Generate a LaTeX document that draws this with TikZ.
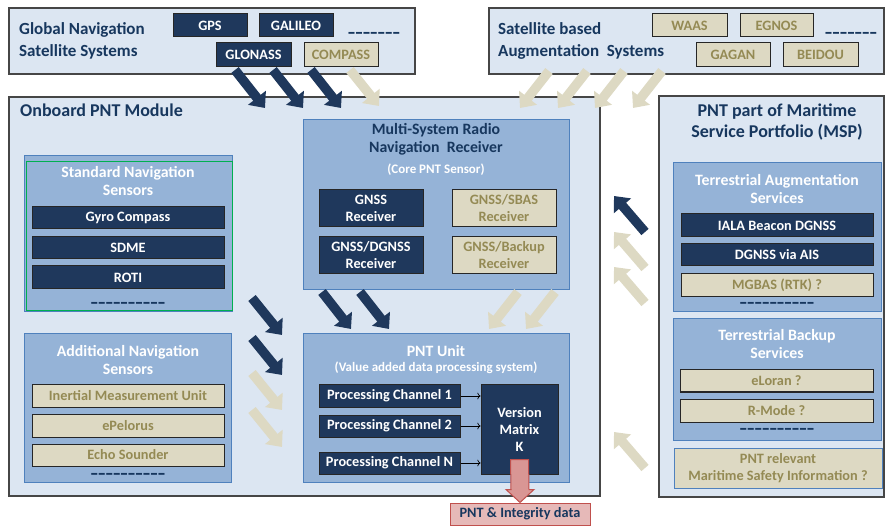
\documentclass[tikz,border=0pt]{standalone}
\usepackage{fontspec}
\setmainfont{Carlito}
\newfontfamily\dashfont[FakeStretch=1.36]{Carlito}
\usetikzlibrary{arrows.meta}

\definecolor{navy}{RGB}{31,56,92}
\definecolor{titleblue}{RGB}{23,55,94}
\definecolor{outerfill}{RGB}{220,230,242}
\definecolor{outerline}{RGB}{70,70,70}
\definecolor{groupfill}{RGB}{149,179,215}
\definecolor{groupline}{RGB}{79,129,189}
\definecolor{tanfill}{RGB}{221,217,195}
\definecolor{tantext}{RGB}{148,138,84}
\definecolor{sensorgreen}{RGB}{0,176,80}
\definecolor{resultfill}{RGB}{230,185,184}
\definecolor{arrowred}{RGB}{217,150,148}
\definecolor{redline}{RGB}{192,80,77}

\newcommand{\dashrow}[1]{\foreach \i in {1,...,#1}{-}}

\tikzset{
  wh/.style 2 args={minimum width=#1pt, minimum height=#2pt},
  outerbox/.style={rectangle, draw=outerline, fill=outerfill, line width=1.2pt, inner sep=0pt},
  groupbox/.style={rectangle, draw=groupline, fill=groupfill, line width=0.8pt, inner sep=0pt},
  darkbox/.style={rectangle, draw=black!85, fill=navy, text=white, line width=1pt, inner sep=0pt,
    align=center, font=\fontsize{14.3}{17}\selectfont\bfseries},
  tanbox/.style={darkbox, fill=tanfill, text=tantext},
  bigtitle/.style={text=titleblue, inner sep=0pt, font=\fontsize{17}{22}\selectfont\bfseries},
  grouptitle/.style={text=white, inner sep=0pt, align=center, font=\fontsize{15.8}{18}\selectfont\bfseries},
  note/.style={grouptitle, font=\fontsize{13}{15}\selectfont\bfseries},
  dashline/.style={text=titleblue, inner sep=0pt, anchor=base, font=\dashfont\fontsize{18}{18}\selectfont\bfseries},
  darkarrow/.style={line width=9.5pt, draw=navy, -{Triangle[width=22pt,length=13pt]}},
  tanarrow/.style={darkarrow, draw=tanfill},
  chanarrow/.style={->, black, line width=0.7pt},
  outarrow/.style={draw=redline, fill=arrowred, line width=1pt},
}

\begin{document}
\begin{tikzpicture}[x=1pt, y=-1pt]
  \useasboundingbox (0,0) rectangle (886,526);

  % satellite systems
  \node[outerbox, wh={406}{66}] (gnss) at (212,41) {};
  \node[bigtitle, anchor=west, align=left] (gnsstitle) at (19,41) {Global Navigation\\Satellite Systems};
  \node[darkbox, wh={74}{23}] (gps) at (210,25.5) {GPS};
  \node[darkbox, wh={74}{23}] (galileo) at (296,25.5) {GALILEO};
  \node[darkbox, wh={75}{24}] (glonass) at (253.5,55) {GLONASS};
  \node[tanbox, wh={74}{24}] (compass) at (341,55) {COMPASS};
  \node[dashline] (gnssdash) at (374,38.5) {\dashrow{7}};

  \node[outerbox, wh={395}{66}] (sbas) at (686.5,41) {};
  \node[bigtitle, anchor=west, align=left] (sbastitle) at (498,41) {Satellite based\\Augmentation~ Systems};
  \node[tanbox, wh={75}{23}] (waas) at (689.5,25.5) {WAAS};
  \node[tanbox, wh={73}{23}] (egnos) at (776.5,25.5) {EGNOS};
  \node[tanbox, wh={74}{24}] (gagan) at (733,55) {GAGAN};
  \node[tanbox, wh={75}{24}] (beidou) at (820.5,55) {BEIDOU};
  \node[dashline] (sbasdash) at (851,38.5) {\dashrow{7}};

  % onboard module
  \node[outerbox, wh={591}{399}] (onboard) at (304.5,296.5) {};
  \node[bigtitle, anchor=west, font=\fontsize{18}{22}\selectfont\bfseries] (onboardtitle) at (20,110) {Onboard PNT Module};

  \node[groupbox, wh={208}{156}] (std) at (128,233) {};
  \node[rectangle, draw=sensorgreen, line width=1pt, wh={206}{149}] (stdframe) at (129,236.5) {};
  \node[grouptitle] (stdtitle) at (128,181) {Standard Navigation\\Sensors};
  \node[darkbox, wh={192}{22}] (gyro) at (128,218) {Gyro Compass};
  \node[darkbox, wh={192}{22}] (sdme) at (128,248) {SDME};
  \node[darkbox, wh={192}{23}] (roti) at (128,277.5) {ROTI};
  \node[dashline] (stddash) at (128,308.5) {\dashrow{10}};

  \node[groupbox, wh={207}{149}] (add) at (127.5,407.5) {};
  \node[grouptitle] (addtitle) at (128,360) {Additional Navigation\\Sensors};
  \node[tanbox, wh={192}{22}] (imu) at (128,396) {Inertial Measurement Unit};
  \node[tanbox, wh={192}{23}] (pelorus) at (128,425.5) {ePelorus};
  \node[tanbox, wh={192}{22}] (echo) at (128,455) {Echo Sounder};
  \node[dashline] (adddash) at (128,479) {\dashrow{10}};

  \node[groupbox, wh={266}{170}] (msr) at (436,204) {};
  \node[grouptitle, text=titleblue] (msrtitle) at (436,139.5) {Multi-System Radio\\Navigation~ Receiver};
  \node[note] (msrnote) at (436,170) {(Core PNT Sensor)};
  \node[darkbox, wh={104}{37}] (rxgnss) at (371,208.5) {GNSS\\Receiver};
  \node[tanbox, wh={104}{37}] (rxsbas) at (504,208.5) {GNSS/SBAS\\Receiver};
  \node[darkbox, wh={104}{37}] (rxdgnss) at (371,255.5) {GNSS/DGNSS\\Receiver};
  \node[tanbox, wh={104}{37}] (rxbackup) at (504,255.5) {GNSS/Backup\\Receiver};

  \node[groupbox, wh={266}{149}] (unit) at (436,407.5) {};
  \node[grouptitle] (unittitle) at (436,351) {PNT Unit};
  \node[note] (unitnote) at (436,368) {(Value added data processing system)};
  \node[darkbox, wh={141}{22}] (pc1) at (389.5,396) {Processing Channel 1};
  \node[darkbox, wh={141}{22}] (pc2) at (389.5,426) {Processing Channel 2};
  \node[darkbox, wh={141}{22}] (pcn) at (389.5,463) {Processing Channel N};
  \node[darkbox, wh={77}{89}] (vm) at (519.5,429.5) {Version\\Matrix\\K};
  \foreach \c in {pc1,pc2,pcn}
    \draw[chanarrow] (\c.east) -- (\c.east -| vm.west);

  % maritime service portfolio
  \node[outerbox, wh={225}{401}] (msp) at (771.5,296.5) {};
  \node[bigtitle, align=center, font=\fontsize{18}{21}\selectfont\bfseries] (msptitle) at (777,122) {PNT part of Maritime\\Service Portfolio (MSP)};

  \node[groupbox, wh={208}{149}] (tas) at (777,236.5) {};
  \node[grouptitle] (tastitle) at (777,189) {Terrestrial Augmentation\\Services};
  \node[darkbox, wh={192}{23}] (iala) at (777,225.5) {IALA Beacon DGNSS};
  \node[darkbox, wh={192}{22}] (ais) at (777,255) {DGNSS via AIS};
  \node[tanbox, wh={192}{23}] (mgbas) at (777,285.5) {MGBAS (RTK) ?};
  \node[dashline] (tasdash) at (777,308.5) {\dashrow{10}};

  \node[groupbox, wh={208}{122}] (tbs) at (777,379) {};
  \node[grouptitle] (tbstitle) at (777,344) {Terrestrial Backup\\Services};
  \node[tanbox, wh={193}{22}] (eloran) at (776.5,381) {eLoran ?};
  \node[tanbox, wh={193}{23}] (rmode) at (776.5,410.5) {R-Mode ?};
  \node[dashline] (tbsdash) at (777,434) {\dashrow{10}};

  \node[tanbox, draw=groupline, wh={208}{40}] (msi) at (778,468) {PNT relevant\\Maritime Safety Information ?};

  % block arrows
  \foreach \x in {235,273,311}
    \draw[darkarrow] (\x,70) -- ++(30,38);
  \draw[tanarrow] (350,70) -- ++(29,36);
  \foreach \x in {549,587,624,662}
    \draw[tanarrow] (\x,71) -- ++(-29,37);
  \foreach \x in {322,360}
    \draw[darkarrow] (\x,292) -- ++(29,37);
  \foreach \x in {518,555}
    \draw[tanarrow] (\x,292) -- ++(-29,37);
  \foreach \y in {298,338}
    \draw[darkarrow] (252,\y) -- ++(30,37);
  \foreach \y in {373,410}
    \draw[tanarrow] (252,\y) -- ++(30,37);
  \draw[darkarrow] (645,232) -- ++(-31,-36);
  \foreach \y in {268,303,468}
    \draw[tanarrow] (645,\y) -- ++(-31,-36);

  % output
  \node[rectangle, draw=redline, fill=resultfill, text=titleblue, line width=1pt, wh={140}{22}, inner sep=0pt,
    font=\fontsize{14.3}{17}\selectfont\bfseries] (result) at (520,514) {PNT \& Integrity data};
  \draw[outarrow] ([xshift=-9pt,yshift=15pt]vm.south) -- ([xshift=-9pt,yshift=13pt]result.north)
    -- ([xshift=-14pt,yshift=13pt]result.north) -- (result.north)
    -- ([xshift=14pt,yshift=13pt]result.north) -- ([xshift=9pt,yshift=13pt]result.north)
    -- ([xshift=9pt,yshift=15pt]vm.south) -- cycle;
\end{tikzpicture}
\end{document}
